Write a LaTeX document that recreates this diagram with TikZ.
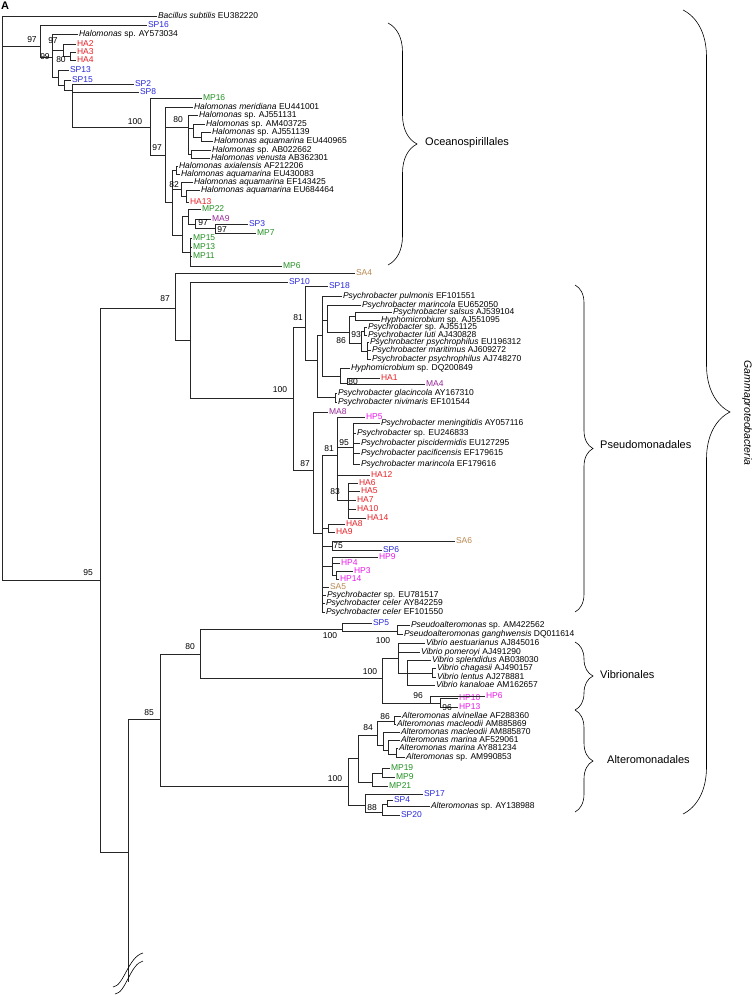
\documentclass[tikz,border=0pt]{standalone}
\usepackage{fontspec}
\setmainfont{Liberation Sans}
\usetikzlibrary{decorations.pathreplacing}

\definecolor{hared}{RGB}{232,32,38}
\definecolor{spblue}{RGB}{40,40,220}
\definecolor{mpgreen}{RGB}{35,145,35}
\definecolor{mapurple}{RGB}{150,40,150}
\definecolor{hpmag}{RGB}{232,25,232}
\definecolor{sabrown}{RGB}{185,135,80}

\tikzset{
  br/.style={line width=0.55pt, draw=black!85},
  leaf/.style={anchor=west, inner sep=0.8pt, text height=5.8pt, text depth=1.6pt, font=\fontsize{8.5}{9}\selectfont},
  ha/.style={leaf, text=hared},
  sp/.style={leaf, text=spblue},
  mp/.style={leaf, text=mpgreen},
  ma/.style={leaf, text=mapurple},
  hp/.style={leaf, text=hpmag},
  sa/.style={leaf, text=sabrown},
  bs/.style={inner sep=0pt, font=\fontsize{8.5}{9}\selectfont},
  brc/.style={decorate, decoration={brace, amplitude=#1}, line width=0.6pt},
  clade/.style={anchor=west, inner sep=0pt, font=\fontsize{11}{12}\selectfont}
}

\begin{document}
\begin{tikzpicture}[x=1pt, y=-1pt]
  \useasboundingbox (0,0) rectangle (754,995);
  \node[font=\fontsize{11}{12}\selectfont\bfseries, inner sep=0pt] (panel) at (5,6) {A};

  % internal nodes
  \coordinate (root) at (2,300);
  \coordinate (a97) at (40,46);
  \coordinate (n99) at (52,57);
  \coordinate (n97b) at (63,50);
  \coordinate (n80a) at (70,56);
  \coordinate (nL) at (58,77);
  \coordinate (nM) at (64,85);
  \coordinate (nN) at (72,90);
  \coordinate (o100) at (150,127);
  \coordinate (n97h) at (165,155);
  \coordinate (n80h) at (188,127);
  \coordinate (nHa) at (193,128);
  \coordinate (nHb) at (201,137);
  \coordinate (nHc) at (191,154);
  \coordinate (nX) at (172,202);
  \coordinate (nHd) at (176,170);
  \coordinate (n82) at (181,189);
  \coordinate (nHe) at (186,196);
  \coordinate (nY) at (182,235);
  \coordinate (nZ) at (188,216);
  \coordinate (n97c) at (195,224);
  \coordinate (n97d) at (215,228);
  \coordinate (nW) at (190,252);
  \coordinate (n95) at (100,580);
  \coordinate (n87) at (175,308);
  \coordinate (nP) at (190,340);
  \coordinate (n100P) at (293,398);
  \coordinate (n81) at (305,327);
  \coordinate (nQ) at (317,360);
  \coordinate (nR) at (322,335);
  \coordinate (nS) at (327,320);
  \coordinate (n86) at (349,332);
  \coordinate (nB) at (355,316);
  \coordinate (n93) at (361,343);
  \coordinate (nD) at (364,331);
  \coordinate (nPP) at (367,351);
  \coordinate (nT) at (340,376);
  \coordinate (n80p) at (347,383);
  \coordinate (nGN) at (335,397);
  \coordinate (n87b) at (313,470);
  \coordinate (nBig) at (322,533);
  \coordinate (n81b) at (337,455);
  \coordinate (n95b) at (353,447);
  \coordinate (n83) at (348,500);
  \coordinate (nHA89) at (328,528);
  \coordinate (n75) at (332,546);
  \coordinate (nHP) at (332,566);
  \coordinate (nHPb) at (336,575);
  \coordinate (n128) at (128,852);
  \coordinate (cut) at (128,982);
  \coordinate (n85) at (160,719);
  \coordinate (n80v) at (200,654);
  \coordinate (n100ps) at (342,629);
  \coordinate (nPs) at (397,631);
  \coordinate (n100v) at (382,678);
  \coordinate (nVib) at (398,658);
  \coordinate (nV2) at (407,673);
  \coordinate (nCh) at (432,673);
  \coordinate (n96) at (430,703);
  \coordinate (n96b) at (440,703);
  \coordinate (n100a) at (348,786);
  \coordinate (n84) at (358,758);
  \coordinate (nAltA) at (377,735);
  \coordinate (n86a) at (394,721);
  \coordinate (nAltB) at (383,745);
  \coordinate (nAltC) at (388,750);
  \coordinate (nAltD) at (396,754);
  \coordinate (nMP) at (372,782);
  \coordinate (nMP2) at (382,773);
  \coordinate (nLowA) at (365,805);
  \coordinate (n88) at (382,812);
  \coordinate (nSP4) at (387,804);

  % leaves: Oceanospirillales
  \node[leaf] (bsub) at (157,16) {\textit{Bacillus subtilis} EU382220};
  \node[sp] (sp16) at (147,25) {SP16};
  \node[leaf] (halAY) at (78,34) {\textit{Halomonas} sp. AY573034};
  \node[ha] (ha2) at (76,44) {HA2};
  \node[ha] (ha3) at (76,52) {HA3};
  \node[ha] (ha4) at (76,60) {HA4};
  \node[sp] (sp13) at (69,70) {SP13};
  \node[sp] (sp15) at (71,80) {SP15};
  \node[sp] (sp2) at (134,84) {SP2};
  \node[sp] (sp8) at (139,92) {SP8};
  \node[mp] (mp16) at (202,98) {MP16};
  \node[leaf] (hmer) at (193,107) {\textit{Halomonas meridiana} EU441001};
  \node[leaf] (hAJa) at (198,115) {\textit{Halomonas} sp. AJ551131};
  \node[leaf] (hAM) at (205,124) {\textit{Halomonas} sp. AM403725};
  \node[leaf] (hAJb) at (211,132) {\textit{Halomonas} sp. AJ551139};
  \node[leaf] (hEUa) at (213,141) {\textit{Halomonas aquamarina} EU440965};
  \node[leaf] (hAB) at (211,150) {\textit{Halomonas} sp. AB022662};
  \node[leaf] (hven) at (210,158) {\textit{Halomonas venusta} AB362301};
  \node[leaf] (hax) at (178,166) {\textit{Halomonas axialensis} AF212206};
  \node[leaf] (hEUb) at (180,174) {\textit{Halomonas aquamarina} EU430083};
  \node[leaf] (hEF) at (193,182) {\textit{Halomonas aquamarina} EF143425};
  \node[leaf] (hEUc) at (200,190) {\textit{Halomonas aquamarina} EU684464};
  \node[ha] (ha13) at (189,202) {HA13};
  \node[mp] (mp22) at (201,209) {MP22};
  \node[ma] (ma9) at (211,219) {MA9};
  \node[sp] (sp3) at (248,224) {SP3};
  \node[mp] (mp7) at (256,233) {MP7};
  \node[mp] (mp15) at (192,238) {MP15};
  \node[mp] (mp13) at (192,247) {MP13};
  \node[mp] (mp11) at (192,256) {MP11};
  \node[mp] (mp6) at (282,266) {MP6};

  % leaves: Pseudomonadales
  \node[sa] (sa4) at (355,273) {SA4};
  \node[sp] (sp10) at (288,282) {SP10};
  \node[sp] (sp18) at (328,286) {SP18};
  \node[leaf] (pPul) at (342,296) {\textit{Psychrobacter pulmonis} EF101551};
  \node[leaf] (pMarEU) at (361,305) {\textit{Psychrobacter marincola} EU652050};
  \node[leaf] (pSal) at (392,312) {\textit{Psychrobacter salsus} AJ539104};
  \node[leaf] (hyAJ) at (380,320) {\textit{Hyphomicrobium} sp. AJ551095};
  \node[leaf] (pAJ) at (367,327) {\textit{Psychrobacter} sp. AJ551125};
  \node[leaf] (pLuti) at (367,335) {\textit{Psychrobacter luti} AJ430828};
  \node[leaf] (pPsyEU) at (369,342) {\textit{Psychrobacter psychrophilus} EU196312};
  \node[leaf] (pMarit) at (371,350) {\textit{Psychrobacter maritimus} AJ609272};
  \node[leaf] (pPsyAJ) at (371,359) {\textit{Psychrobacter psychrophilus} AJ748270};
  \node[leaf] (hyDQ) at (350,368) {\textit{Hyphomicrobium} sp. DQ200849};
  \node[ha] (ha1) at (380,378) {HA1};
  \node[ma] (ma4) at (425,384) {MA4};
  \node[leaf] (pGla) at (337,393) {\textit{Psychrobacter glacincola} AY167310};
  \node[leaf] (pNiv) at (337,402) {\textit{Psychrobacter nivimaris} EF101544};
  \node[ma] (ma8) at (328,412) {MA8};
  \node[hp] (hp5) at (365,417) {HP5};
  \node[leaf] (pMen) at (380,423) {\textit{Psychrobacter meningitidis} AY057116};
  \node[leaf] (pEU246) at (356,433) {\textit{Psychrobacter} sp. EU246833};
  \node[leaf] (pPis) at (360,443) {\textit{Psychrobacter piscidermidis} EU127295};
  \node[leaf] (pPac) at (360,453) {\textit{Psychrobacter pacificensis} EF179615};
  \node[leaf] (pMarEF) at (360,464) {\textit{Psychrobacter marincola} EF179616};
  \node[ha] (ha12) at (370,475) {HA12};
  \node[ha] (ha6) at (358,483) {HA6};
  \node[ha] (ha5) at (360,491) {HA5};
  \node[ha] (ha7) at (356,500) {HA7};
  \node[ha] (ha10) at (356,509) {HA10};
  \node[ha] (ha14) at (366,518) {HA14};
  \node[ha] (ha8) at (345,524) {HA8};
  \node[ha] (ha9) at (335,532) {HA9};
  \node[sa] (sa6) at (455,541) {SA6};
  \node[sp] (sp6) at (382,550) {SP6};
  \node[hp] (hp9) at (378,557) {HP9};
  \node[hp] (hp4) at (340,563) {HP4};
  \node[hp] (hp3) at (353,571) {HP3};
  \node[hp] (hp14) at (339,579) {HP14};
  \node[sa] (sa5) at (329,587) {SA5};
  \node[leaf] (pEU781) at (326,595) {\textit{Psychrobacter} sp. EU781517};
  \node[leaf] (pCelAY) at (325,603) {\textit{Psychrobacter celer} AY842259};
  \node[leaf] (pCelEF) at (325,612) {\textit{Psychrobacter celer} EF101550};

  % leaves: Vibrionales, Alteromonadales
  \node[sp] (sp5) at (372,623) {SP5};
  \node[leaf] (psAM) at (410,625) {\textit{Pseudoalteromonas} sp. AM422562};
  \node[leaf] (psDQ) at (403,634) {\textit{Pseudoalteromonas ganghwensis} DQ011614};
  \node[leaf] (vAes) at (425,643) {\textit{Vibrio aestuarianus} AJ845016};
  \node[leaf] (vPom) at (420,652) {\textit{Vibrio pomeroyi} AJ491290};
  \node[leaf] (vSpl) at (431,660) {\textit{Vibrio splendidus} AB038030};
  \node[leaf] (vCha) at (436,668) {\textit{Vibrio chagasii} AJ490157};
  \node[leaf] (vLen) at (436,677) {\textit{Vibrio lentus} AJ278881};
  \node[leaf] (vKan) at (435,685) {\textit{Vibrio kanaloae} AM162657};
  \node[hp] (hp6) at (485,696) {HP6};
  \node[hp] (hp10) at (458,698) {HP10};
  \node[hp] (hp13) at (458,707) {HP13};
  \node[leaf] (aAlv) at (401,716) {\textit{Alteromonas alvinellae} AF288360};
  \node[leaf] (aMacA) at (396,724) {\textit{Alteromonas macleodii} AM885869};
  \node[leaf] (aMacB) at (400,732) {\textit{Alteromonas macleodii} AM885870};
  \node[leaf] (aMarA) at (400,740) {\textit{Alteromonas marina} AF529061};
  \node[leaf] (aMarB) at (398,748) {\textit{Alteromonas marina} AY881234};
  \node[leaf] (aAM) at (405,757) {\textit{Alteromonas} sp. AM990853};
  \node[mp] (mp19) at (390,768) {MP19};
  \node[mp] (mp9) at (395,777) {MP9};
  \node[mp] (mp21) at (388,786) {MP21};
  \node[sp] (sp17) at (423,794) {SP17};
  \node[sp] (sp4) at (393,800) {SP4};
  \node[leaf] (aAY) at (430,806) {\textit{Alteromonas} sp. AY138988};
  \node[sp] (sp20) at (400,815) {SP20};

  % branches
  \draw[br] (root) |- (bsub.west) (root) |- (a97) (root) |- (n95);
  \draw[br] (a97) |- (sp16.west) (a97) |- (n99);
  \draw[br] (n99) |- (halAY.west) (n99) |- (n97b) (n99) |- (nL);
  \draw[br] (n97b) |- (ha2.west) (n97b) |- (n80a);
  \draw[br] (n80a) |- (ha3.west) (n80a) |- (ha4.west);
  \draw[br] (nL) |- (sp13.west) (nL) |- (nM);
  \draw[br] (nM) |- (sp15.west) (nM) |- (nN);
  \draw[br] (nN) |- (sp2.west) (nN) |- (sp8.west) (nN) |- (o100);
  \draw[br] (o100) |- (mp16.west) (o100) |- (n97h);
  \draw[br] (n97h) |- (hmer.west) (n97h) |- (n80h) (n97h) |- (nX);
  \draw[br] (n80h) |- (hAJa.west) (n80h) |- (nHa) (n80h) |- (nHc);
  \draw[br] (nHa) |- (hAM.west) (nHa) |- (nHb);
  \draw[br] (nHb) |- (hAJb.west) (nHb) |- (hEUa.west);
  \draw[br] (nHc) |- (hAB.west) (nHc) |- (hven.west);
  \draw[br] (nX) |- (nHd) (nX) |- (n82) (nX) |- (nY);
  \draw[br] (nHd) |- (hax.west) (nHd) |- (hEUb.west);
  \draw[br] (n82) |- (hEF.west) (n82) |- (nHe);
  \draw[br] (nHe) |- (hEUc.west) (nHe) |- (ha13.west);
  \draw[br] (nY) |- (nZ) (nY) |- (nW);
  \draw[br] (nZ) |- (mp22.west) (nZ) |- (n97c);
  \draw[br] (n97c) |- (ma9.west) (n97c) |- (n97d);
  \draw[br] (n97d) |- (sp3.west) (n97d) |- (mp7.west);
  \draw[br] (nW) |- (mp15.west) (nW) |- (mp13.west) (nW) |- (mp11.west) (nW) |- (mp6.west);

  \draw[br] (n95) |- (n87) (n95) |- (n128);
  \draw[br] (n87) |- (sa4.west) (n87) |- (nP);
  \draw[br] (nP) |- (sp10.west) (nP) |- (n100P);
  \draw[br] (n100P) |- (n81) (n100P) |- (n87b);
  \draw[br] (n81) |- (sp18.west) (n81) |- (nQ);
  \draw[br] (nQ) |- (nR) (nQ) |- (nGN);
  \draw[br] (nR) |- (pPul.west) (nR) |- (nS) (nR) |- (nT);
  \draw[br] (nS) |- (pMarEU.west) (nS) |- (n86);
  \draw[br] (n86) |- (nB) (n86) |- (n93);
  \draw[br] (nB) |- (pSal.west) (nB) |- (hyAJ.west);
  \draw[br] (n93) |- (nD) (n93) |- (nPP);
  \draw[br] (nD) |- (pAJ.west) (nD) |- (pLuti.west);
  \draw[br] (nPP) |- (pPsyEU.west) (nPP) |- (pMarit.west) (nPP) |- (pPsyAJ.west);
  \draw[br] (nT) |- (hyDQ.west) (nT) |- (n80p);
  \draw[br] (n80p) |- (ha1.west) (n80p) |- (ma4.west);
  \draw[br] (nGN) |- (pGla.west) (nGN) |- (pNiv.west);
  \draw[br] (n87b) |- (ma8.west) (n87b) |- (nBig);
  \draw[br] (nBig) |- (n81b) (nBig) |- (nHA89) (nBig) |- (n75) (nBig) |- (nHP)
    (nBig) |- (sa5.west) (nBig) |- (pEU781.west) (nBig) |- (pCelAY.west) (nBig) |- (pCelEF.west);
  \draw[br] (n81b) |- (hp5.west) (n81b) |- (n95b) (n81b) |- (ha12.west) (n81b) |- (n83);
  \draw[br] (n95b) |- (pMen.west) (n95b) |- (pEU246.west) (n95b) |- (pPis.west) (n95b) |- (pPac.west) (n95b) |- (pMarEF.west);
  \draw[br] (n83) |- (ha6.west) (n83) |- (ha5.west) (n83) |- (ha7.west) (n83) |- (ha10.west) (n83) |- (ha14.west);
  \draw[br] (nHA89) |- (ha8.west) (nHA89) |- (ha9.west);
  \draw[br] (n75) |- (sa6.west) (n75) |- (sp6.west);
  \draw[br] (nHP) |- (hp9.west) (nHP) |- (hp4.west) (nHP) |- (nHPb);
  \draw[br] (nHPb) |- (hp3.west) (nHPb) |- (hp14.west);

  \draw[br] (n128) |- (n85) (n128) -- (cut);
  \draw[br] (n85) |- (n80v) (n85) |- (n100a);
  \draw[br] (n80v) |- (n100ps) (n80v) |- (n100v);
  \draw[br] (n100ps) |- (sp5.west) (n100ps) |- (nPs);
  \draw[br] (nPs) |- (psAM.west) (nPs) |- (psDQ.west);
  \draw[br] (n100v) |- (nVib) (n100v) |- (n96);
  \draw[br] (nVib) |- (vAes.west) (nVib) |- (vPom.west) (nVib) |- (nV2);
  \draw[br] (nV2) |- (vSpl.west) (nV2) |- (nCh) (nV2) |- (vKan.west);
  \draw[br] (nCh) |- (vCha.west) (nCh) |- (vLen.west);
  \draw[br] (n96) |- (hp6.west) (n96) |- (n96b);
  \draw[br] (n96b) |- (hp10.west) (n96b) |- (hp13.west);
  \draw[br] (n100a) |- (n84) (n100a) |- (nLowA);
  \draw[br] (n84) |- (nAltA) (n84) |- (nMP);
  \draw[br] (nAltA) |- (n86a) (nAltA) |- (nAltB);
  \draw[br] (n86a) |- (aAlv.west) (n86a) |- (aMacA.west);
  \draw[br] (nAltB) |- (aMacB.west) (nAltB) |- (nAltC);
  \draw[br] (nAltC) |- (aMarA.west) (nAltC) |- (nAltD);
  \draw[br] (nAltD) |- (aMarB.west) (nAltD) |- (aAM.west);
  \draw[br] (nMP) |- (nMP2) (nMP) |- (mp21.west);
  \draw[br] (nMP2) |- (mp19.west) (nMP2) |- (mp9.west);
  \draw[br] (nLowA) |- (sp17.west) (nLowA) |- (n88);
  \draw[br] (n88) |- (nSP4) (n88) |- (sp20.west);
  \draw[br] (nSP4) |- (sp4.west) (nSP4) |- (aAY.west);

  % break marks on the cut branch
  \draw[line width=0.6pt] (113,987) .. controls (124,986) and (128,957) .. (143,953);
  \draw[line width=0.6pt] (115,994) .. controls (126,993) and (130,964) .. (143,961);

  % bootstrap values
  \node[bs] (bA97) at (32,40) {97};
  \node[bs] (bA99) at (45,57) {99};
  \node[bs] (bB97) at (53,41) {97};
  \node[bs] (bA80) at (61,60) {80};
  \node[bs] (bO100) at (135,122) {100};
  \node[bs] (bH97) at (157,148) {97};
  \node[bs] (bH80) at (178,120) {80};
  \node[bs] (bH82) at (174,185) {82};
  \node[bs] (bZ97) at (203,223) {97};
  \node[bs] (bD97) at (222,230) {97};
  \node[bs] (b95) at (88,573) {95};
  \node[bs] (b87) at (165,299) {87};
  \node[bs] (bP100) at (280,390) {100};
  \node[bs] (b81) at (298,318) {81};
  \node[bs] (b86) at (341,341) {86};
  \node[bs] (b93) at (356,335) {93};
  \node[bs] (bT80) at (353,382) {80};
  \node[bs] (b87b) at (305,464) {87};
  \node[bs] (b81b) at (329,449) {81};
  \node[bs] (b95b) at (344,443) {95};
  \node[bs] (b83) at (335,492) {83};
  \node[bs] (b75) at (338,546) {75};
  \node[bs] (b85) at (149,713) {85};
  \node[bs] (b80v) at (190,647) {80};
  \node[bs] (bPs100) at (330,636) {100};
  \node[bs] (bPs100b) at (383,641) {100};
  \node[bs] (bV100) at (370,672) {100};
  \node[bs] (b96) at (418,696) {96};
  \node[bs] (b96b) at (447,708) {96};
  \node[bs] (bA100) at (335,779) {100};
  \node[bs] (b84) at (368,728) {84};
  \node[bs] (b86a) at (385,717) {86};
  \node[bs] (b88) at (372,808) {88};

  % clade braces
  \draw[brc=29pt] (388,23) -- (388,265);
  \node[clade] (lOcean) at (425,143) {Oceanospirillales};
  \draw[brc=18pt] (575,285) -- (575,612);
  \node[clade] (lPseudo) at (600,445) {Pseudomonadales};
  \draw[brc=18pt] (575,642) -- (575,710);
  \node[clade] (lVibrio) at (600,675) {Vibrionales};
  \draw[brc=18pt] (575,710) -- (575,812);
  \node[clade] (lAltero) at (607,760) {Alteromonadales};
  \draw[brc=47pt] (683,10) -- (683,814);
  \node[font=\fontsize{10.5}{12}\selectfont\itshape, rotate=-90, inner sep=0pt] (lGamma) at (747,413) {Gammaproteobacteria};
\end{tikzpicture}
\end{document}
